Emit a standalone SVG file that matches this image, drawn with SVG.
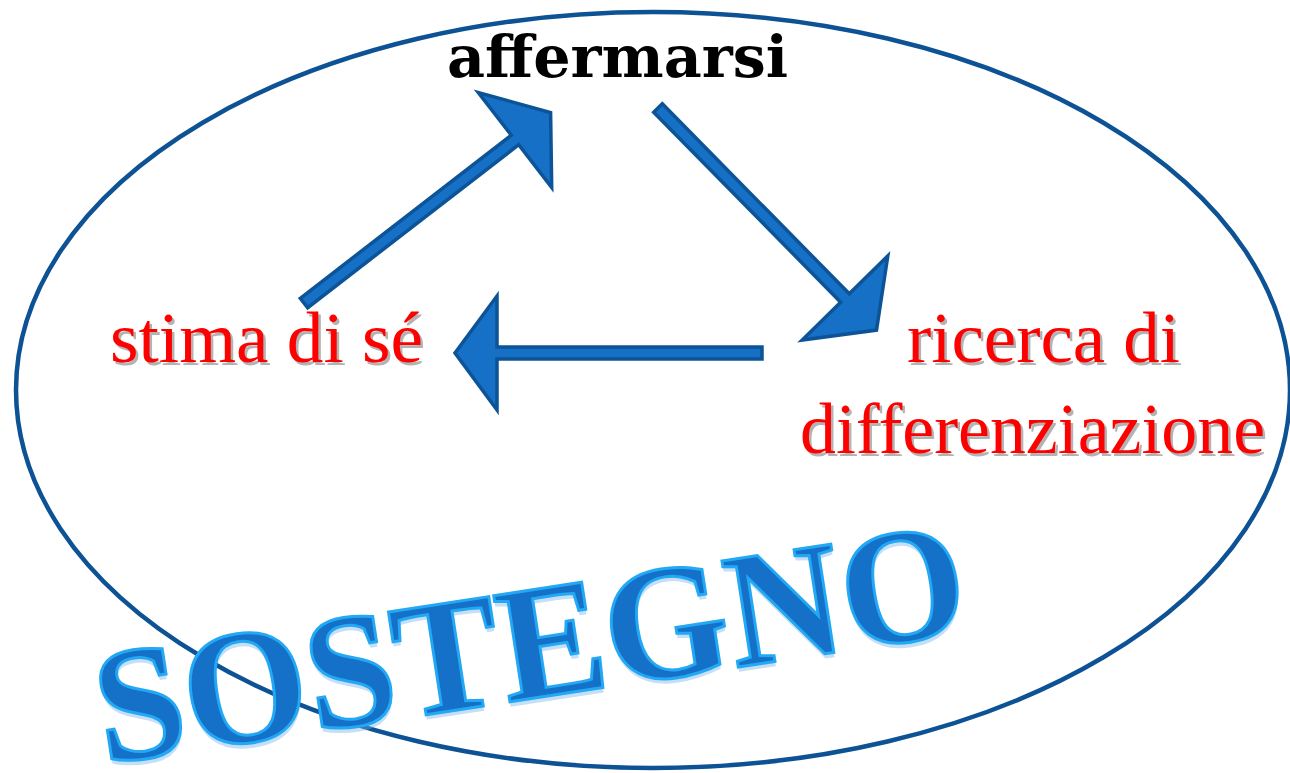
<svg xmlns="http://www.w3.org/2000/svg" width="1290" height="773" viewBox="0 0 1290 773">
  <style>
    .red { font-family: "Liberation Serif", "Times New Roman", serif; font-size: 72px; fill: #ff0000; }
    .redsh { font-family: "Liberation Serif", "Times New Roman", serif; font-size: 72px; fill: #b3b3b3; }
    .arrow { fill: #1570c6; stroke: #0c5497; stroke-width: 3.5; stroke-linejoin: miter; }
    .sost { font-family: "Liberation Serif", "Times New Roman", serif; font-weight: bold; font-size: 164px; }
  </style>
  <rect width="1290" height="773" fill="#ffffff"/>

  <g id="sostegno-boundary">
    <ellipse cx="653" cy="390" rx="637" ry="378" fill="none" stroke="#0d5294" stroke-width="4.5"/>
  </g>

  <g id="node-affermarsi">
    <text x="447" y="77" font-family="DejaVu Serif, serif" font-weight="bold" font-size="57" fill="#000000" textLength="341" lengthAdjust="spacingAndGlyphs">affermarsi</text>
  </g>

  <g id="node-stima">
    <text class="redsh" x="112.5" y="364.5" textLength="313" lengthAdjust="spacingAndGlyphs">stima di sé</text>
    <text class="red" x="110" y="362" textLength="313" lengthAdjust="spacingAndGlyphs">stima di sé</text>
  </g>

  <g id="node-ricerca">
    <text class="redsh" x="909.5" y="364.5" textLength="273" lengthAdjust="spacingAndGlyphs">ricerca di</text>
    <text class="red" x="907" y="362" textLength="273" lengthAdjust="spacingAndGlyphs">ricerca di</text>
    <text class="redsh" x="802.5" y="455.5" textLength="465" lengthAdjust="spacingAndGlyphs">differenziazione</text>
    <text class="red" x="800" y="453" textLength="465" lengthAdjust="spacingAndGlyphs">differenziazione</text>
  </g>

  <g id="connectors">
    <polygon class="arrow" points="300.3,298.3 511.3,135.3 478.3,92.5 550.6,112.5 551.7,187.5 518.7,144.7 307.7,307.7"/>
    <polygon class="arrow" points="653.7,112.2 840.7,302.2 802.2,340.1 876.5,330.1 887.8,255.9 849.3,293.8 662.3,103.8"/>
    <polygon class="arrow" points="762,347 497,347 497,296 455,353 497,410 497,359 762,359"/>
  </g>

  <g id="label-sostegno" transform="translate(104,764) rotate(-8.7)">
    <text class="sost" x="0" y="5" fill="#6fb2ea" opacity="0.4" textLength="878" lengthAdjust="spacingAndGlyphs">SOSTEGNO</text>
    <text class="sost" x="0" y="0" fill="#1471c7" stroke="#22a8f4" stroke-width="3" textLength="878" lengthAdjust="spacingAndGlyphs">SOSTEGNO</text>
  </g>
</svg>
